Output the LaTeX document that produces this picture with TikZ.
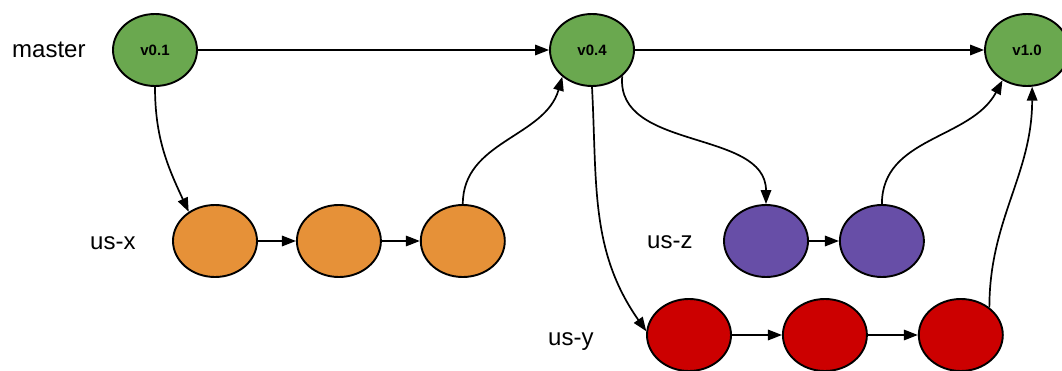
\documentclass[tikz,border=0pt]{standalone}
\usepackage{fontspec}
\setmainfont{Liberation Sans}
\usetikzlibrary{arrows.meta,positioning,shapes.geometric}
\definecolor{taggreen}{RGB}{106,168,79}
\definecolor{usxorange}{RGB}{230,145,56}
\definecolor{uszpurple}{RGB}{103,78,167}
\definecolor{usyred}{RGB}{204,0,0}

\begin{document}
\begin{tikzpicture}[
    x=1pt, y=1pt,
    commit/.style={ellipse, draw=black, line width=1.9pt, minimum width=84pt, minimum height=72pt, inner sep=0pt, font=\fontsize{15}{18}\selectfont\bfseries},
    branch/.style={font=\fontsize{24}{28}\selectfont, anchor=base west, inner sep=0pt},
    arr/.style={-{Triangle[length=14pt,width=10.5pt]}, line width=1.7pt}
  ]
  \useasboundingbox (0,0) rectangle (1062,-371);

  % master line with the tags
  \node[branch] (lmaster) at (12,-58) {master};
  \node[commit, fill=taggreen] (v01) at (155,-50) {v0.1};
  \node[commit, fill=taggreen] (v04) at (592,-50) {v0.4};
  \node[commit, fill=taggreen] (v10) at (1027,-50) {v1.0};

  % us-x
  \node[branch] (lusx) at (90,-250) {us-x};
  \node[commit, fill=usxorange] (x1) at (215,-241) {};
  \node[commit, fill=usxorange, right=38pt of x1] (x2) {};
  \node[commit, fill=usxorange, right=38pt of x2] (x3) {};

  % us-z
  \node[branch] (lusz) at (647,-249) {us-z};
  \node[commit, fill=uszpurple] (z1) at (766,-241) {};
  \node[commit, fill=uszpurple, right=30pt of z1] (z2) {};

  % us-y
  \node[branch] (lusy) at (548,-345) {us-y};
  \node[commit, fill=usyred] (y1) at (689,-335) {};
  \node[commit, fill=usyred, right=50pt of y1] (y2) {};
  \node[commit, fill=usyred, right=50pt of y2] (y3) {};

  % master
  \draw[arr] (v01) -- (v04);
  \draw[arr] (v04) -- (v10);

  % branching off
  \draw[arr] (v01.south) to[out=-90, in=115] (x1.132);
  \draw[arr] (v04.-41) to[out=-95, in=90] (z1.north);
  \draw[arr] (v04.south) to[out=-87, in=125] (y1.175);

  % commits on the branches
  \draw[arr] (x1) -- (x2);
  \draw[arr] (x2) -- (x3);
  \draw[arr] (z1) -- (z2);
  \draw[arr] (y1) -- (y2);
  \draw[arr] (y2) -- (y3);

  % merging back
  \draw[arr] (x3.north) to[out=90, in=-106] (v04.-138);
  \draw[arr] (z2.north) to[out=90, in=-118] (v10.-129);
  \draw[arr] (y3.44) to[out=90, in=-90] (v10.-82);
\end{tikzpicture}
\end{document}
